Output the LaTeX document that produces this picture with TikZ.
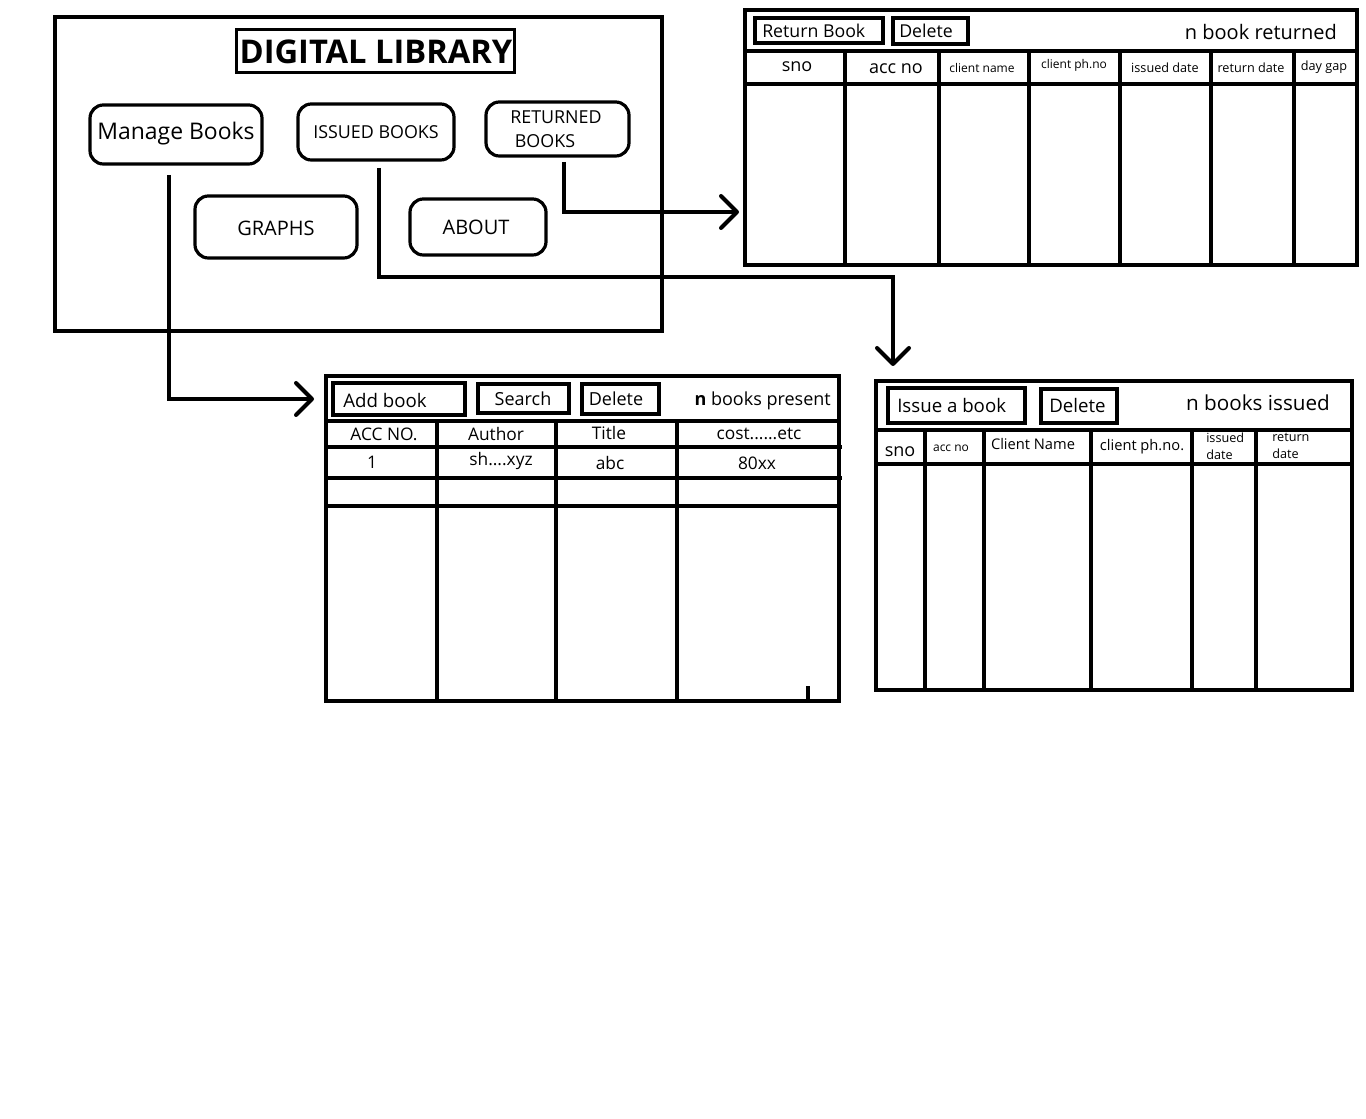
\documentclass[tikz,border=0pt]{standalone}
\usepackage{fontspec}
\setmainfont{Open Sans}
\usetikzlibrary{arrows.meta,fit}
\newcommand\fs[1]{\fontsize{#1}{#1}\selectfont}
\tikzset{
  frame/.style={draw, line width=3pt, inner sep=0pt},
  titlebox/.style={draw, line width=2.25pt, inner sep=0pt},
  menubtn/.style={draw, line width=2.4pt, rounded corners=10pt, inner sep=0pt},
  tablebox/.style={draw, line width=3.6pt, inner sep=0pt},
  toolbtn/.style={draw, line width=2.3pt, inner sep=0pt},
  grid/.style={line width=3pt},
  txt/.style={inner sep=0pt},
  conn/.style={line width=3pt, -{Straight Barb[length=12pt,width=24pt,round]}},
}
\begin{document}
\begin{tikzpicture}[x=0.75pt,y=-0.75pt]
\useasboundingbox[fill=white] (0,0) rectangle (1366,1119);

% ---------- main window ----------
\node[frame, fit={(55,17)(662,331)}] (main) {};
\node[titlebox, fit={(236,30)(514,73)}] (titlebox) {};
\node[txt, font=\fs{24.5}\bfseries] (title) at (376,52) {DIGITAL LIBRARY};

\node[menubtn, fit={(90,105)(262,164)}] (mb) {};
\node[txt, font=\fs{17.2}] (mbt) at (176,134) {Manage Books};
\node[menubtn, fit={(298,104)(454,160)}] (ib) {};
\node[txt, font=\fs{13.4}] (ibt) at (376,132) {ISSUED BOOKS};
\node[menubtn, fit={(486,102)(629,156)}] (rb) {};
\node[txt, font=\fs{13.4}] (rbt1) at (556,117) {RETURNED};
\node[txt, font=\fs{13.4}] (rbt2) at (545,141) {BOOKS};
\node[menubtn, fit={(195,196)(357,258)}] (gr) {};
\node[txt, font=\fs{15}] (grt) at (276,228) {GRAPHS};
\node[menubtn, fit={(410,199)(546,255)}] (ab) {};
\node[txt, font=\fs{15}] (abt) at (476,227) {ABOUT};

% ---------- returned books table ----------
\node[tablebox, fit={(745,10)(1357,265)}] (tr) {};
\draw[grid] (745,51) -- (1357,51);
\draw[grid] (745,84) -- (1357,84);
\foreach \cx in {845,939,1029,1120,1211,1294} \draw[grid] (\cx,51) -- (\cx,265);
\node[toolbtn, fit={(755,18)(883,43)}] (trret) {};
\node[txt, anchor=west, font=\fs{13.3}] (trrett) at (762,31) {Return Book};
\node[toolbtn, fit={(893,18)(968,44)}] (trdel) {};
\node[txt, anchor=west, font=\fs{13.3}] (trdelt) at (899,31) {Delete};
\node[txt, anchor=east, font=\fs{15}] (trcount) at (1337,32) {n book returned};
\node[txt, font=\fs{13.5}] (trh1) at (797,67) {sno};
\node[txt, font=\fs{13.5}] (trh2) at (896,69) {acc no};
\node[txt, font=\fs{9}] (trh3) at (982,68) {client name};
\node[txt, font=\fs{9}] (trh4) at (1074,65) {client ph.no};
\node[txt, font=\fs{9.5}] (trh5) at (1165,68) {issued date};
\node[txt, font=\fs{9.5}] (trh6) at (1251,68) {return date};
\node[txt, font=\fs{9.5}] (trh7) at (1324,67) {day gap};

% ---------- manage books table ----------
\node[tablebox, fit={(326,376)(839,701)}] (tm) {};
\draw[grid] (326,421) -- (839,421);
\draw[grid] (326,447) -- (842,447);
\draw[grid] (326,478) -- (842,478);
\draw[grid] (326,506) -- (839,506);
\foreach \cx in {437,556,677} \draw[grid] (\cx,421) -- (\cx,701);
\draw[grid] (808,686) -- (808,701);
\node[toolbtn, fit={(333,383)(465,415)}] (tmadd) {};
\node[txt, anchor=west, font=\fs{14}] (tmaddt) at (343,401) {Add book};
\node[toolbtn, fit={(478,384)(569,413)}] (tmsrch) {};
\node[txt, font=\fs{13.5}] (tmsrcht) at (523,399) {Search};
\node[toolbtn, fit={(582,384)(659,414)}] (tmdel) {};
\node[txt, font=\fs{13.5}] (tmdelt) at (616,399) {Delete};
\node[txt, anchor=east, font=\fs{13.5}] (tmcount) at (831,401) {\textbf{n} books present};
\node[txt, font=\fs{13}] (tmh1) at (384,434) {ACC NO.};
\node[txt, font=\fs{13}] (tmh2) at (496,434) {Author};
\node[txt, font=\fs{13}] (tmh3) at (609,433) {Title};
\node[txt, font=\fs{13}] (tmh4) at (759,434) {cost......etc};
\node[txt, font=\fs{13}] (tmr1) at (372,462) {1};
\node[txt, font=\fs{13}] (tmr2) at (501,461) {sh....xyz};
\node[txt, font=\fs{13}] (tmr3) at (610,463) {abc};
\node[txt, font=\fs{13}] (tmr4) at (757,463) {80xx};

% ---------- issued books table ----------
\node[tablebox, fit={(876,381)(1352,690)}] (ti) {};
\draw[grid] (876,430) -- (1352,430);
\draw[grid] (876,464) -- (1352,464);
\foreach \cx in {925,984,1091,1192,1256} \draw[grid] (\cx,430) -- (\cx,690);
\node[toolbtn, fit={(888,388)(1025,423)}] (tiiss) {};
\node[txt, anchor=west, font=\fs{14}] (tiisst) at (897,405) {Issue a book};
\node[toolbtn, fit={(1041,389)(1117,423)}] (tidel) {};
\node[txt, anchor=west, font=\fs{14}] (tidelt) at (1049,406) {Delete};
\node[txt, font=\fs{15.5}] (ticount) at (1258,403) {n books issued};
\node[txt, font=\fs{13.5}] (tih1) at (900,452) {sno};
\node[txt, font=\fs{9}] (tih2) at (951,448) {acc no};
\node[txt, font=\fs{11}] (tih3) at (1033,444) {Client Name};
\node[txt, font=\fs{11}] (tih4) at (1142,447) {client ph.no.};
\node[txt, anchor=west, font=\fs{9.5}] (tih5a) at (1206,438) {issued};
\node[txt, anchor=west, font=\fs{9.5}] (tih5b) at (1206,455) {date};
\node[txt, anchor=west, font=\fs{9.5}] (tih6a) at (1272,437) {return};
\node[txt, anchor=west, font=\fs{9.5}] (tih6b) at (1272,454) {date};

% ---------- connectors ----------
\coordinate (mbs) at (169,175);
\coordinate (mbe) at (314,399);
\draw[conn] (mbs) |- (mbe);
\coordinate (ibs) at (379,168);
\coordinate (ibk) at (893,277);
\coordinate (ibe) at (893,366);
\draw[conn] (ibs) |- (ibk) -- (ibe);
\coordinate (rbs) at (564,162);
\coordinate (rbe) at (739,212);
\draw[conn] (rbs) |- (rbe);
\end{tikzpicture}
\end{document}
